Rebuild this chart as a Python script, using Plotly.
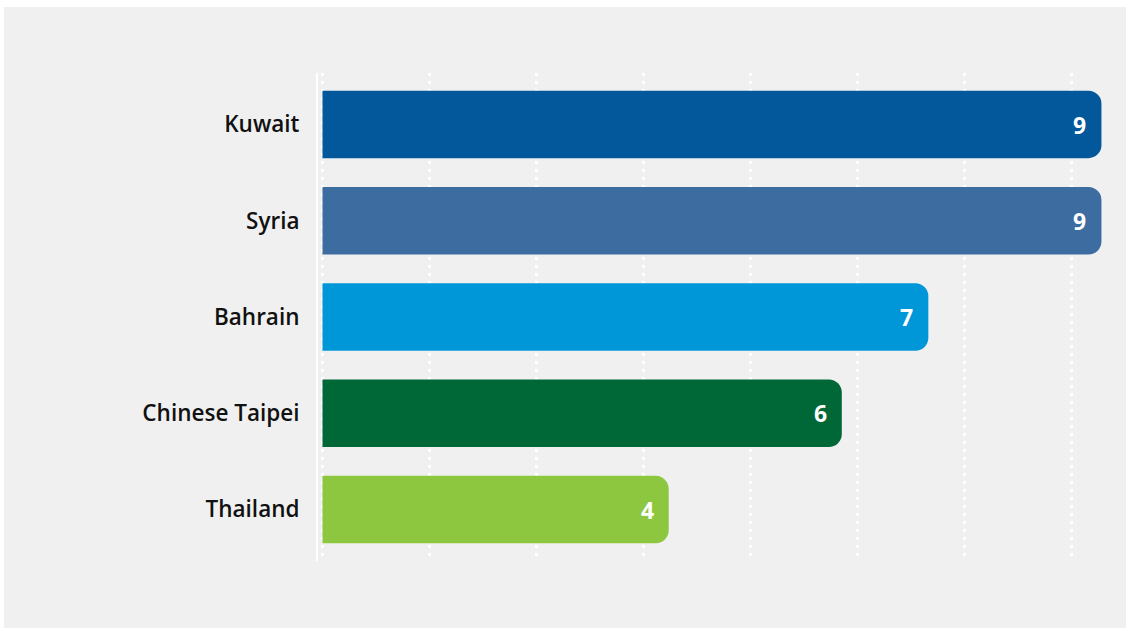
import plotly.graph_objects as go

# Data
countries = ["Kuwait", "Syria", "Bahrain", "Chinese Taipei", "Thailand"]
values = [9, 9, 7, 6, 4]
bar_colors = ["#02589a", "#3d6ca1", "#0097d8", "#006837", "#8dc63f"]

W, H = 1126, 628
M_L, M_R, M_T, M_B = 318, 16, 73, 67

# x scale: 0 sits a few px right of the plot edge; grid spacing in value units
px_per_unit = 86.55
x_min = -4.5 / px_per_unit
x_max = (W - M_R - M_L - 4.5) / px_per_unit
grid_step = 107 / px_per_unit
grid_vals = [k * grid_step for k in range(8)]

fig = go.Figure(
    go.Bar(
        x=values,
        y=countries,
        orientation="h",
        marker=dict(color=bar_colors, line=dict(width=0), cornerradius=13),
        hoverinfo="skip",
    )
)

# value labels just inside the end of each bar
for c, v in zip(countries, values):
    fig.add_annotation(
        x=v, y=c, text=f"<b>{v}</b>", showarrow=False,
        xanchor="right", xshift=-13,
        font=dict(family="Open Sans", size=23, color="white"),
    )

# page frame: white strip at top and left, light grey panel elsewhere
plot_w = W - M_L - M_R
plot_h = H - M_T - M_B
def px_x(p):
    return (p - M_L) / plot_w
def px_y(p):
    return 1 - (p - M_T) / plot_h

fig.add_shape(type="rect", xref="paper", yref="paper", layer="below",
              x0=px_x(4), x1=px_x(W + 2), y0=px_y(H + 2), y1=px_y(7),
              fillcolor="#f0f0f0", line=dict(width=0))

fig.update_layout(
    width=W, height=H,
    margin=dict(l=M_L, r=M_R, t=M_T, b=M_B, pad=0),
    paper_bgcolor="white",
    plot_bgcolor="rgba(0,0,0,0)",
    bargap=0.30,
    showlegend=False,
    font=dict(family="Open Sans", color="#111111"),
    xaxis=dict(
        range=[x_min, x_max],
        tickvals=grid_vals,
        showticklabels=False,
        showgrid=True, gridcolor="white", gridwidth=3, griddash="3px,5px",
        zeroline=False, showline=False, fixedrange=True,
    ),
    yaxis=dict(
        categoryorder="array", categoryarray=countries,
        range=[4.535, -0.535],
        showgrid=False, zeroline=False,
        showline=True, linecolor="white", linewidth=2,
        ticks="", ticklabelstandoff=12,
        tickfont=dict(family="Open Sans", size=22.5, color="#111111", weight=600),
        fixedrange=True,
    ),
)

fig.write_html("out.html", config={"displayModeBar": False})
